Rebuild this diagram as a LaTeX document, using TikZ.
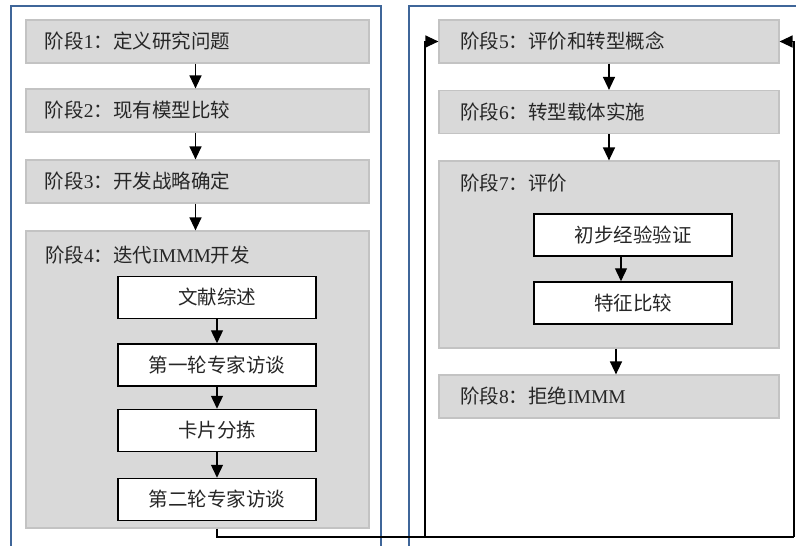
\documentclass[tikz,border=0pt]{standalone}
\usepackage{fontspec}
\setmainfont{Liberation Serif}
\newfontfamily\cjkf{Noto Sans CJK SC}
\newcommand\zh[1]{{\cjkf #1}}
\usetikzlibrary{arrows.meta,calc}
\definecolor{frameblue}{HTML}{3F6699}
\definecolor{boxgray}{HTML}{D9D9D9}
\definecolor{boxline}{HTML}{C3C3C3}
\definecolor{txt}{HTML}{262626}
\begin{document}
\begin{tikzpicture}[x=1pt,y=-1pt,
  lphase/.style={draw=boxline, fill=boxgray, line width=1.2pt, text width=305pt, inner xsep=19pt, inner ysep=0pt,
    minimum height=43pt, align=left, font=\fontsize{19.5}{23}\selectfont, text=txt},
  rphase/.style={lphase, text width=298pt, inner xsep=21pt},
  bigbox/.style={draw=boxline, fill=boxgray, line width=1.2pt, inner sep=0pt},
  title/.style={anchor=west, inner sep=0pt, font=\fontsize{19.5}{23}\selectfont, text=txt},
  inbox/.style={draw=black, fill=white, line width=1.5pt, minimum width=198pt, minimum height=42pt, inner sep=0pt,
    font=\fontsize{19.5}{23}\selectfont, text=txt},
  arr/.style={-{Triangle[width=12pt,length=13pt]}, line width=1.3pt, black},
  frame/.style={draw=frameblue, line width=2.2pt}]
\useasboundingbox (0,0) rectangle (796,546);
\clip (0,0) rectangle (796,546);
% frames
\draw[frame] (11,600) -- (11,6) -- (381,6) -- (381,600);
\draw[frame] (409,600) -- (409,6) -- (830,6);
% left column
\node[lphase] (p1) at (197.5,41.5) {\zh{阶段}1\zh{：定义研究问题}};
\node[lphase] (p2) at (197.5,110.5) {\zh{阶段}2\zh{：现有模型比较}};
\node[lphase] (p3) at (197.5,181.5) {\zh{阶段}3\zh{：开发战略确定}};
\node[bigbox, minimum width=343pt, minimum height=297pt] (p4) at (197.5,379.5) {};
\node[title] (p4t) at (45,255) {\zh{阶段}4\zh{：迭代}IMMM\zh{开发}};
\node[inbox] (w1) at (217,297.5) {\zh{文献综述}};
\node[inbox] (w2) at (217,365) {\zh{第一轮专家访谈}};
\node[inbox] (w3) at (217,430.5) {\zh{卡片分拣}};
\node[inbox] (w4) at (217,499.5) {\zh{第二轮专家访谈}};
% right column
\node[rphase] (p5) at (609,41.5) {\zh{阶段}5\zh{：评价和转型概念}};
\node[rphase] (p6) at (609,112) {\zh{阶段}6\zh{：转型载体实施}};
\node[bigbox, minimum width=340pt, minimum height=187pt] (p7) at (609,254.5) {};
\node[title] (p7t) at (460,183) {\zh{阶段}7\zh{：评价}};
\node[inbox] (v1) at (633,235) {\zh{初步经验验证}};
\node[inbox] (v2) at (633,303) {\zh{特征比较}};
\node[rphase] (p8) at (609,396.5) {\zh{阶段}8\zh{：拒绝}IMMM};
% connectors
\draw[arr] ([xshift=-2pt]p1.south) -- ([xshift=-2pt]p2.north);
\draw[arr] ([xshift=-2pt]p2.south) -- ([xshift=-2pt]p3.north);
\draw[arr] ([xshift=-2pt]p3.south) -- ([xshift=-2pt]p4.north);
\draw[arr] (w1) -- (w2);
\draw[arr] (w2) -- (w3);
\draw[arr] (w3) -- (w4);
\draw[arr] (p5) -- (p6);
\draw[arr] (p6) -- (p7);
\draw[arr] ([xshift=-12pt]v1.south) -- ([xshift=-12pt]v2.north);
\draw[arr] ([xshift=7pt]p7.south) -- ([xshift=7pt]p8.north);
\coordinate (bl) at (425,537);
\coordinate (br) at (794,537);
\draw[line width=1.3pt] (p4.south -| w4.south) |- (br);
\draw[arr] (br) |- (p5.east);
\draw[arr] (bl) |- (p5.west);
\end{tikzpicture}
\end{document}
